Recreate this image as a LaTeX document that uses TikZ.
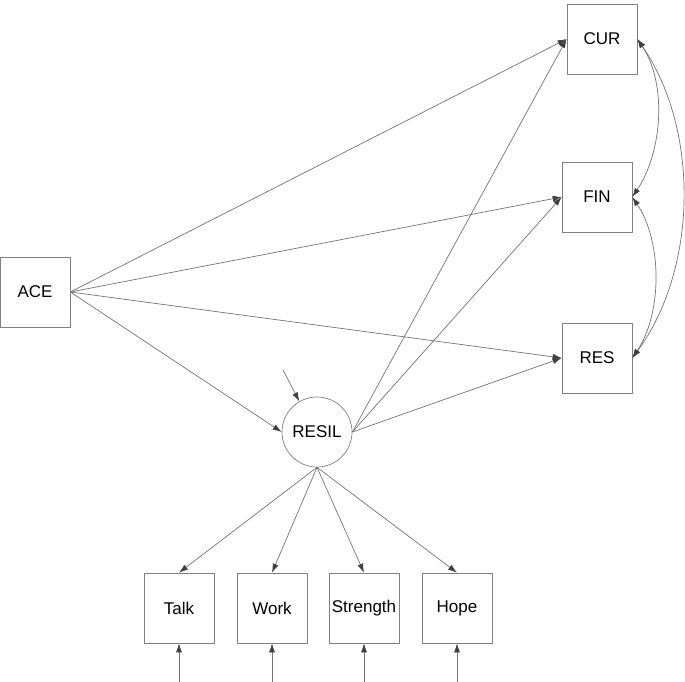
\documentclass[tikz,border=0pt]{standalone}
\usepackage{fontspec}
\setmainfont{Liberation Sans}
\usetikzlibrary{arrows.meta}

\begin{document}
\begin{tikzpicture}[
  x=1pt, y=-1pt,
  obs/.style={draw=black!50, line width=0.7pt, minimum size=70pt, inner sep=0pt, font=\fontsize{17}{20}\selectfont},
  lat/.style={obs, circle},
  arr/.style={draw=black!55, line width=0.7pt, -{Latex[length=9pt,width=6pt,color=black!75]}},
  covarr/.style={draw=black!55, line width=0.7pt, {Latex[length=9pt,width=6pt,color=black!75]}-{Latex[length=9pt,width=6pt,color=black!75]}}
]
\useasboundingbox (0,0) rectangle (685,682);

% Define nodes with names to reference them later for the paths
\node[obs] (ACE) at (35,292) {ACE};
\node[obs] (CUR) at (602,39) {CUR};
\node[obs] (FIN) at (597,197) {FIN};
\node[obs] (RES) at (597,358) {RES};
\node[lat] (RESIL) at (317,432) {RESIL};
\node[obs] (Talk) at (179,608) {Talk};
\node[obs] (Work) at (272,608) {Work};
\node[obs] (Strength) at (364,608) {Strength};
\node[obs] (Hope) at (457,608) {Hope};

% Free ends of the residual arrows
\coordinate (eRESIL) at (283,370);
\coordinate (eTalk) at (179,682);
\coordinate (eWork) at (272,682);
\coordinate (eStrength) at (364,682);
\coordinate (eHope) at (457,682);

% Regression paths
\draw[arr] (ACE.east) -- (CUR.west);
\draw[arr] (ACE.east) -- (FIN.west);
\draw[arr] (ACE.east) -- (RES.west);
\draw[arr] (ACE.east) -- (RESIL.west);
\draw[arr] (RESIL.east) -- (CUR.west);
\draw[arr] (RESIL.east) -- (FIN.west);
\draw[arr] (RESIL.east) -- (RES.west);

% Measurement part
\draw[arr] (RESIL.south) -- (Talk.north);
\draw[arr] (RESIL.south) -- (Work.north);
\draw[arr] (RESIL.south) -- (Strength.north);
\draw[arr] (RESIL.south) -- (Hope.north);

% Residuals
\draw[arr] (eRESIL) -- (RESIL.120);
\draw[arr] (eTalk) -- (Talk.south);
\draw[arr] (eWork) -- (Work.south);
\draw[arr] (eStrength) -- (Strength.south);
\draw[arr] (eHope) -- (Hope.south);

% Covariances between the outcomes
\draw[covarr] (CUR.east) .. controls +(30,45) and +(30,-45) .. (FIN.east);
\draw[covarr] (FIN.east) .. controls +(30,45) and +(30,-45) .. (RES.east);
\draw[covarr] (CUR.east) .. controls +(62,90) and +(66,-90) .. (RES.east);

\end{tikzpicture}
\end{document}
